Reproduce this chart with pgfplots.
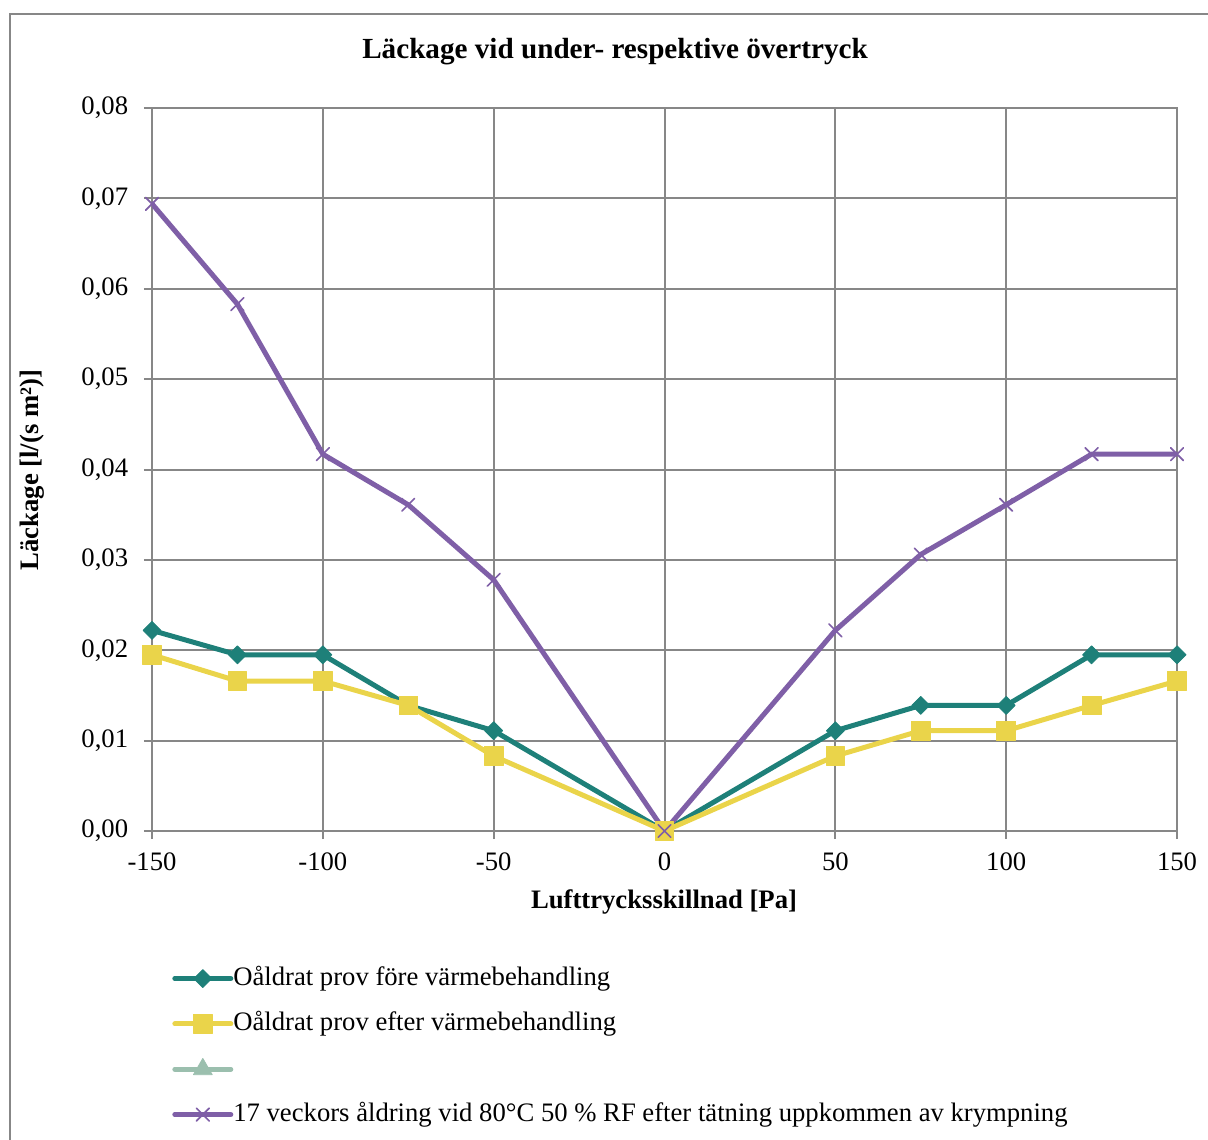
\documentclass[border=0pt]{standalone}
\usepackage{pgfplots}
\pgfplotsset{compat=1.18}
\usepackage{fontspec}
\setmainfont{Liberation Serif}
\definecolor{cteal}{HTML}{1E8079}
\definecolor{cyel}{HTML}{EAD44A}
\definecolor{cpur}{HTML}{7F5FA7}
\definecolor{cgrn}{HTML}{9BBFAE}
\definecolor{cgrid}{HTML}{878787}
\newcommand{\fs}{\fontsize{16pt}{19pt}\selectfont}
\begin{document}
\begin{tikzpicture}
\useasboundingbox (0,0) rectangle (724.8pt,-683.4pt);
\draw[cgrid, line width=1.2pt] (10*0.6pt,-14*0.6pt) rectangle (1240*0.6pt,-1180*0.6pt);
\node[font=\fontsize{17.5pt}{20pt}\selectfont\bfseries] at (615*0.6pt,-52*0.6pt) {Läckage vid under- respektive övertryck};
\node[font=\fs\bfseries, rotate=90] at (32*0.6pt,-470*0.6pt) {Läckage [l/(s m²)]};
\node[font=\fs\bfseries] at (664*0.6pt,-902*0.6pt) {Lufttrycksskillnad [Pa]};
\begin{axis}[
  at={(152*0.6pt,-831*0.6pt)}, anchor=south west,
  scale only axis, width=615pt, height=433.8pt,
  xmin=-150, xmax=150, ymin=0, ymax=0.08,
  xtick={-150,-100,-50,0,50,100,150},
  xticklabels={-150,-100,-50,0,50,100,150},
  ytick={0,0.01,0.02,0.03,0.04,0.05,0.06,0.07,0.08},
  yticklabels={{0,00},{0,01},{0,02},{0,03},{0,04},{0,05},{0,06},{0,07},{0,08}},
  tick label style={font=\fs},
  xticklabel style={yshift=-4.8pt},
  yticklabel style={xshift=-6pt},
  tick align=outside, major tick length=4.8pt,
  tick style={cgrid, line width=1.2pt},
  xtick pos=bottom, ytick pos=left,
  grid=major, grid style={cgrid, line width=1.2pt},
  axis line style={cgrid, line width=1.2pt},
  scaled y ticks=false,
  legend style={at={(0.0195,-0.1875)}, anchor=north west, draw=none, fill=none,
    inner sep=0pt, font=\fs, row sep=13.2pt, column sep=0pt,
    nodes={inner sep=0pt, text height=11pt, text depth=3pt}},
  legend cell align=left,
  legend image code/.code={\draw[mark repeat=2, mark phase=2, #1] plot coordinates {(0pt,0pt) (16.8pt,0pt) (33.6pt,0pt)};},
  every axis plot/.append style={line width=3pt, line join=round, line cap=round},
]
\addplot[cteal, mark=square*, mark options={rotate=45, solid, line width=0.5pt}, mark size=3.8pt] coordinates {
(-150,0.0222) (-125,0.0195) (-100,0.0195) (-75,0.0139) (-50,0.0111) (0,0) (50,0.0111) (75,0.0139) (100,0.0139) (125,0.0195) (150,0.0195)};
\addlegendentry{Oåldrat prov före värmebehandling}
\addplot[cyel, mark=square*, mark options={solid, line width=0.5pt}, mark size=5.6pt] coordinates {
(-150,0.0195) (-125,0.0166) (-100,0.0166) (-75,0.0139) (-50,0.0083) (0,0) (50,0.0083) (75,0.0111) (100,0.0111) (125,0.0139) (150,0.0166)};
\addlegendentry{Oåldrat prov efter värmebehandling}
\addlegendimage{cgrn, line width=3pt, line cap=round, mark=triangle*, mark options={solid, line width=0.5pt}, mark size=6.5pt}
\addlegendentry{}
\addplot[cpur, mark=x, mark options={solid, line width=1pt}, mark size=5.4pt] coordinates {
(-150,0.0694) (-125,0.0583) (-100,0.0417) (-75,0.0361) (-50,0.0278) (0,0) (50,0.0222) (75,0.0306) (100,0.0361) (125,0.0417) (150,0.0417)};
\addlegendentry{17 veckors åldring vid 80°C 50 \% RF efter tätning uppkommen av krympning}
\end{axis}
\end{tikzpicture}
\end{document}
